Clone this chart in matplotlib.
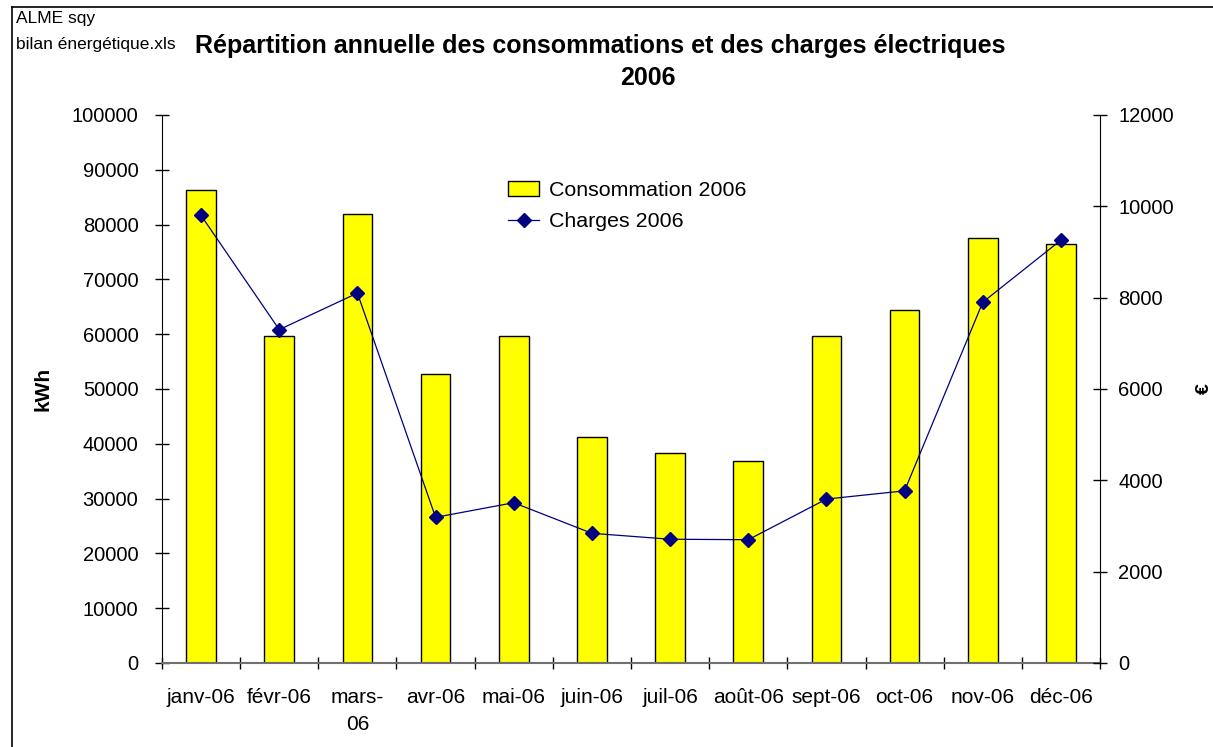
import matplotlib
matplotlib.use("Agg")
import matplotlib.pyplot as plt
from matplotlib.lines import Line2D
from matplotlib.ticker import MultipleLocator, FixedLocator
import numpy as np

plt.rcParams["font.family"] = ["Liberation Sans", "DejaVu Sans"]

# Data
mois = ["janv-06", "févr-06", "mars-\n06", "avr-06", "mai-06", "juin-06",
        "juil-06", "août-06", "sept-06", "oct-06", "nov-06", "déc-06"]
consommation = [86400, 59700, 82000, 52700, 59700, 41200,
                38400, 36800, 59700, 64400, 77500, 76500]
charges = [9800, 7300, 8100, 3190, 3510, 2840,
           2710, 2700, 3590, 3770, 7900, 9260]

W, H = 1213, 747
fig = plt.figure(figsize=(W / 100, H / 100), dpi=100)
ax = fig.add_axes([162 / W, (H - 663) / H, 938 / W, 548 / H])
ax2 = ax.twinx()

x = np.arange(len(mois))
ax.bar(x, consommation, width=0.38, color="#FFFF00", edgecolor="black",
       linewidth=1, label="Consommation 2006", zorder=2)
ax2.plot(x, charges, color="#000080", linewidth=0.9, marker="D",
         markersize=7.5, label="Charges 2006", zorder=3)

ax.set_xlim(-0.5, len(mois) - 0.5)
ax.set_ylim(0, 100000)
ax2.set_ylim(0, 12000)
ax.yaxis.set_major_locator(MultipleLocator(10000))
ax2.yaxis.set_major_locator(MultipleLocator(2000))

ax.set_xticks(x)
ax.set_xticklabels(mois, fontsize=15, linespacing=1.55)
ax.xaxis.set_minor_locator(FixedLocator(np.arange(-0.5, len(mois), 1)))
ax.tick_params(axis="x", which="major", length=0, pad=18)
ax.tick_params(axis="x", which="minor", direction="inout", length=9, width=1)
ax.tick_params(axis="y", direction="inout", length=10, width=1, pad=12, labelsize=14.5)
ax2.tick_params(axis="y", direction="inout", length=10, width=1, pad=8, labelsize=14.5)

for a in (ax, ax2):
    a.spines["top"].set_visible(False)
ax.spines["right"].set_visible(False)
ax2.spines["left"].set_visible(False)
ax2.spines["bottom"].set_visible(False)
ax.spines["bottom"].set_color("#707070")
ax.spines["bottom"].set_linewidth(1.5)

ax.set_ylabel("kWh", fontsize=15, fontweight="bold", labelpad=14)
ax2.set_ylabel("€", fontsize=14, fontweight="bold", rotation=90, labelpad=16)

# legend without frame
h1, l1 = ax.get_legend_handles_labels()
h2, l2 = ax2.get_legend_handles_labels()
ax2.legend(h1 + h2, l1 + l2, loc="upper left",
           bbox_to_anchor=((508 - 162) / 938, 1 - (181 - 115) / 548),
           frameon=False, fontsize=15.4, handlelength=1.45, handletextpad=0.45,
           labelspacing=0.58, borderpad=0, borderaxespad=0)

fig.text(600 / W, 1 - 46 / H, "Répartition annuelle des consommations et des charges électriques",
         ha="center", va="center", fontsize=18, fontweight="bold")
fig.text(648 / W, 1 - 78 / H, "2006", ha="center", va="center",
         fontsize=18, fontweight="bold")
fig.text(16 / W, 1 - 18 / H, "ALME sqy", ha="left", va="center", fontsize=12.5)
fig.text(16 / W, 1 - 44 / H, "bilan énergétique.xls", ha="left", va="center", fontsize=12.5)

# outer frame (left and top edges visible)
fig.add_artist(Line2D([12 / W, 12 / W], [0, 1 - 7 / H], transform=fig.transFigure,
                      color="black", linewidth=1.2))
fig.add_artist(Line2D([12 / W, 1], [1 - 7 / H, 1 - 7 / H], transform=fig.transFigure,
                      color="black", linewidth=1.2))

fig.savefig("out.png", dpi=100)
